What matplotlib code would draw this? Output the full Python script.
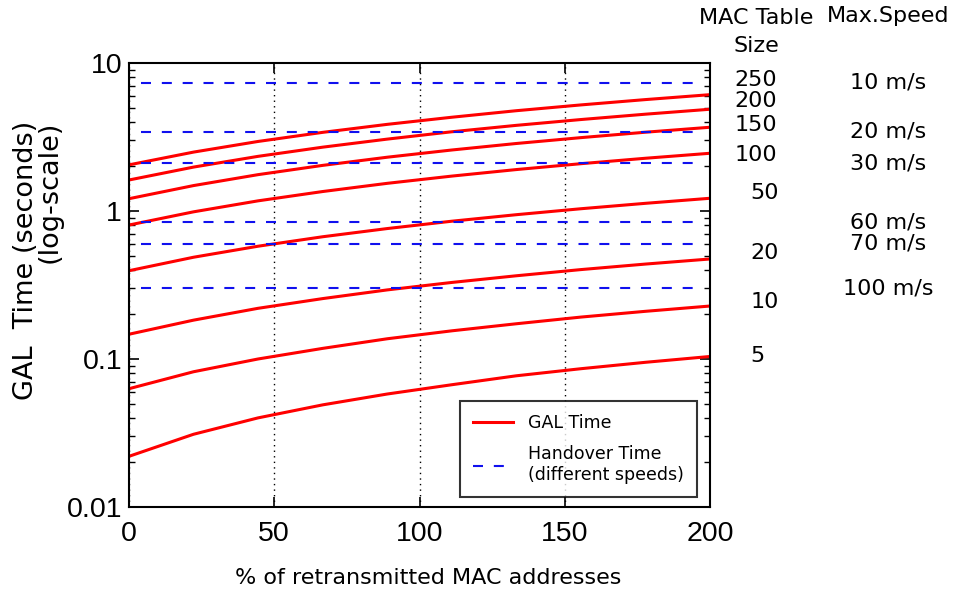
import matplotlib
matplotlib.use("Agg")
import matplotlib.pyplot as plt
from matplotlib.ticker import LogLocator, NullFormatter, FixedLocator

# % of retransmitted MAC addresses
x_pct = [0, 22.2, 44.4, 66.7, 88.9, 111.1, 133.3, 155.6, 177.8, 200]

# GAL time (s) for each MAC table size
gal_5 = [0.022, 0.031, 0.040, 0.049, 0.058, 0.067, 0.077, 0.086, 0.095, 0.104]
gal_10 = [0.063, 0.082, 0.100, 0.118, 0.137, 0.155, 0.173, 0.192, 0.210, 0.228]
gal_20 = [0.147, 0.183, 0.220, 0.256, 0.293, 0.329, 0.365, 0.402, 0.438, 0.474]
gal_50 = [0.395, 0.487, 0.578, 0.670, 0.761, 0.853, 0.944, 1.036, 1.127, 1.219]
gal_100 = [0.804, 0.987, 1.171, 1.354, 1.538, 1.721, 1.905, 2.088, 2.272, 2.455]
gal_150 = [1.211, 1.485, 1.760, 2.034, 2.309, 2.583, 2.858, 3.132, 3.407, 3.680]
gal_200 = [1.62, 1.98, 2.34, 2.70, 3.06, 3.43, 3.79, 4.15, 4.51, 4.87]
gal_250 = [2.05, 2.50, 2.95, 3.40, 3.85, 4.30, 4.76, 5.21, 5.66, 6.11]
gal_series = [gal_5, gal_10, gal_20, gal_50, gal_100, gal_150, gal_200, gal_250]
mac_sizes = ["5", "10", "20", "50", "100", "150", "200", "250"]

# handover time (s) for each max speed
speeds = ["10 m/s", "20 m/s", "30 m/s", "60 m/s", "70 m/s", "100 m/s"]
handover = [7.36, 3.43, 2.11, 0.84, 0.60, 0.30]

x_ticks = [0, 50, 100, 150, 200]

W, H = 956, 594
fig = plt.figure(figsize=(W / 100, H / 100), dpi=100)
ax = fig.add_axes([129 / W, 1 - 507 / H, (710 - 129) / W, (507 - 63) / H])

tick_font = {'family': 'Liberation Sans', 'size': 20.5}

for i, ys in enumerate(gal_series):
    ax.plot(x_pct, ys, color='red', lw=2.2, label='GAL Time' if i == 0 else None)

for i, h in enumerate(handover):
    ax.axhline(h, xmin=0.02, xmax=0.98, color='#1010ee', lw=1.5,
               linestyle=(0, (4.8, 5.2)),
               label='Handover Time\n(different speeds)' if i == 0 else None)

ax.set_yscale('log')
ax.set_xlim(0, 200)
ax.set_ylim(0.01, 10)

ax.xaxis.set_major_locator(FixedLocator(x_ticks))
ax.set_xticklabels([str(t) for t in x_ticks], fontdict=tick_font)
ax.yaxis.set_minor_locator(LogLocator(base=10, subs=range(2, 10), numticks=10))
ax.yaxis.set_minor_formatter(NullFormatter())
ax.set_yticks([0.01, 0.1, 1, 10])
ax.set_yticklabels(['0.01', '0.1', '1', '10'], fontdict=tick_font)

ax.tick_params(which='major', direction='in', length=7, width=1.2,
               top=True, right=True)
ax.tick_params(axis='x', which='major', pad=10)
ax.tick_params(axis='y', which='major', pad=5)
ax.tick_params(which='minor', direction='in', length=4, width=1.0,
               top=True, right=True)
for sp in ax.spines.values():
    sp.set_linewidth(1.5)

ax.xaxis.grid(True, color='black', linestyle=(0, (1, 3)), lw=1.0)

leg = ax.legend(loc='lower right', bbox_to_anchor=(0.978, 0.0225), fontsize=12.5,
                frameon=True, fancybox=False, edgecolor='black',
                borderaxespad=0, handlelength=2.3, handletextpad=0.9,
                borderpad=0.75, labelspacing=0.75)
leg.get_frame().set_linewidth(1.5)

fig.text(38 / W, 1 - 260 / H, "GAL  Time (seconds)\n(log-scale)", rotation=90,
         ha='center', va='center', multialignment='right', fontsize=19.5,
         linespacing=0.85)
fig.text(428 / W, 1 - 578 / H, "% of retransmitted MAC addresses",
         ha='center', va='center', fontsize=16)

fig.text(756 / W, 1 - 32 / H, "MAC Table\nSize", ha='center', va='center',
         fontsize=16, linespacing=1.45)
fig.text(888 / W, 1 - 16 / H, "Max.Speed", ha='center', va='center', fontsize=16)

size_label_px = [356, 302, 253, 193, 155, 125, 101, 80]
size_label_x = [757, 765, 765, 765, 756, 756, 756, 756]
for lab, px, py in zip(mac_sizes, size_label_x, size_label_px):
    fig.text(px / W, 1 - py / H, lab, ha='center', va='center', fontsize=16)

for lab, h in zip(speeds, handover):
    ax.text(1.306, h, lab, transform=ax.get_yaxis_transform(),
            ha='center', va='center', fontsize=16)

fig.savefig("out.png", dpi=100)
